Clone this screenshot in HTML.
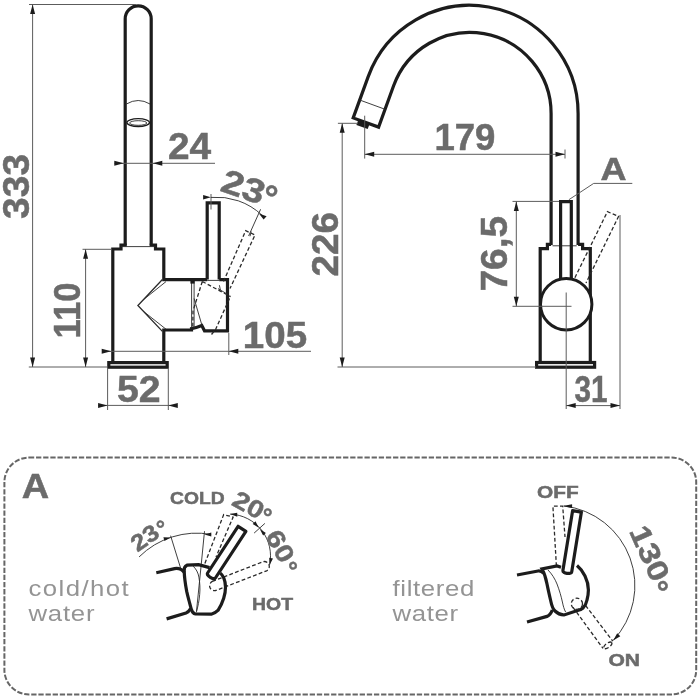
<!DOCTYPE html>
<html><head><meta charset="utf-8"><title>Faucet dimensions</title>
<style>
html,body{margin:0;padding:0;background:#fff;}
svg{display:block;will-change:transform;opacity:0.9999}
.k{fill:none;stroke:#1c1c1c;stroke-width:3.2;stroke-linejoin:miter;stroke-linecap:butt}
.t{fill:none;stroke:#5c5c5c;stroke-width:1}
.tk{fill:none;stroke:#2a2a2a;stroke-width:0.9}
.d{fill:none;stroke:#2a2a2a;stroke-width:1.3;stroke-dasharray:3.8 2.3}
.ar{fill:#1c1c1c;stroke:none}
text{font-family:"Liberation Sans",sans-serif;}
.n{font-weight:bold;fill:#6b6b6b;stroke:#6b6b6b;stroke-width:0.5}
.l{fill:#949494}
</style></head><body>
<svg width="700" height="700" viewBox="0 0 700 700">
<rect width="700" height="700" fill="#fff"/>
<!-- ============ LEFT VIEW ============ -->
<g id="left">
<!-- spout tube -->
<path class="k" d="M125.2,245.5 V18.8 A13,13 0 0 1 151.2,18.8 V245.5"/>
<!-- step + body -->
<path class="k" d="M126.7,245 H121 V249 H112.8 V362"/>
<path class="k" d="M149.7,245 H155.5 V249 H163.8 V279.6 H207.2"/>
<path class="k" d="M219.2,279.6 H227.5 V330.8 H204.5 L201.8,325.6 Q196,328 191.5,328.6 V330 H163.8 V362"/>
<path class="tk" d="M121,246.6 H155.5 M207.2,280.4 H219.2"/>
<rect class="k" x="108.8" y="362.6" width="58.4" height="4.6"/>
<!-- cone -->
<path class="tk" style="stroke-width:1.3" d="M162.4,279.5 L137.9,305.5 L162.4,331.4"/><path class="tk" d="M166,281.6 L143,300 M166,329.2 L143,311"/>
<!-- arm separator -->
<path class="tk" d="M191.6,281 V328 M194.1,281 V328"/>
<rect x="190.4" y="280" width="4.2" height="3.6" fill="#1c1c1c"/>
<!-- tilted housing details -->
<path class="tk" d="M194.1,298.5 L202.3,326.5 M218,288.6 L227.4,294.2 M219.4,285.2 L220.4,290"/>
<path class="d" d="M202.3,281.5 L230.6,296.6 M202.3,281.5 L193,311 L192.8,327 M229.5,298.5 L215.6,329.4 L211.5,334.5"/>
<!-- handle -->
<path class="k" d="M207.2,279.6 V202.9 H219.2 V279.6"/>
<!-- dashed tilted handle -->
<path class="d" d="M223.5,281.5 L245.7,230.7 L255,235 L230,288.5"/>
<path class="tk" d="M260.6,209.3 L248.6,236 M251.2,231.5 L250,236.3"/>
<!-- aerator -->
<ellipse class="k" cx="138.2" cy="122.6" rx="11.3" ry="3.9" style="stroke-width:1.3"/>
<ellipse class="tk" cx="138.2" cy="123" rx="8.6" ry="2.3"/>
<path class="tk" d="M126.4,104 Q138.2,97 150,104"/>
<!-- dimension 333 -->
<path class="t" d="M29,4.5 H136 M32.6,4.5 V367 M28.8,367 H107.5"/>
<path class="ar" d="M32.6,4.5 l-2.5,9.5 h5z M32.6,367 l-2.5,-9.5 h5z"/>
<text class="n" font-size="36" transform="translate(28.7,218.9) rotate(-90)" textLength="65" lengthAdjust="spacingAndGlyphs">333</text>
<!-- dimension 110 -->
<path class="t" d="M82.5,249.3 H111.5 M85.6,249.3 V367"/>
<path class="ar" d="M85.6,249.3 l-2.5,9.5 h5z M85.6,367 l-2.5,-9.5 h5z"/>
<text class="n" font-size="36" transform="translate(79.7,338.4) rotate(-90)" textLength="55.9" lengthAdjust="spacingAndGlyphs">110</text>
<!-- dimension 24 -->
<path class="t" d="M114.5,163.3 H215"/>
<path class="ar" d="M123.8,163.3 l-9.5,-2.5 v5z M152.8,163.3 l9.5,-2.5 v5z"/>
<text class="n" font-size="36.2" x="168" y="159" textLength="43.2" lengthAdjust="spacingAndGlyphs">24</text>
<!-- dimension 105 -->
<path class="t" d="M102.5,351.3 H311 M228.8,333 V355"/>
<path class="ar" d="M111.2,351.3 l-9.5,-2.5 v5z M228.8,351.3 l9.5,-2.5 v5z"/>
<text class="n" font-size="36.2" x="242.8" y="347.8" textLength="64.3" lengthAdjust="spacingAndGlyphs">105</text>
<!-- dimension 52 -->
<path class="t" d="M107.6,368.5 V410 M168.3,368.5 V410 M98.2,405.4 H177.3"/>
<path class="ar" d="M107.6,405.4 l-9.5,-2.5 v5z M168.3,405.4 l9.5,-2.5 v5z"/>
<text class="n" font-size="36.2" x="116.9" y="402.3" textLength="43.7" lengthAdjust="spacingAndGlyphs">52</text>
<!-- angle 23 -->
<path class="t" d="M211,194 V209.5"/>
<path class="tk" d="M210.9,197.4 A66,66 0 0 1 262,215.2"/>
<path class="ar" d="M210.9,197.3 l-7.8,-2.3 v4.6z"/>
<path class="ar" d="M263.6,219.6 L258.9,213.4 L266.6,216.2z"/>
<text class="n" font-size="33.5" transform="translate(219,190.6) rotate(18.7)" textLength="44" lengthAdjust="spacingAndGlyphs">23</text>
<text class="n" font-size="35.5" transform="translate(258.7,206.8) rotate(18.7)">°</text>
</g>
<!-- ============ RIGHT VIEW ============ -->
<g id="right">
<!-- spout -->
<path class="k" d="M578.1,245 V113.6 A108.2,108.2 0 0 0 368.2,76.6 L353.2,117.9 L378.6,127.1 L393.6,85.8 A81.2,81.2 0 0 1 551.1,113.6 V245"/>
<path class="tk" d="M359.7,100.0 L385.1,109.3"/>
<path d="M358.4,119.8 L369.6,123.9 L367.7,129.1 L356.4,125.0z" fill="#1c1c1c"/>
<!-- step + body -->
<path class="k" d="M551.1,244.4 H547.4 V248.7 H540.2 V362"/>
<path class="k" d="M578.1,244.4 H582.6 V248.7 H590.3 V362"/>
<path class="tk" d="M552.5,245.8 H576.7"/>
<rect class="k" x="536.6" y="362.5" width="58" height="4.7"/>
<!-- handle -->
<path class="k" d="M560.6,279 V201.7 H571.3 V279"/>
<!-- hub -->
<circle cx="566.2" cy="304.2" r="25.7" fill="#fff" stroke="#1c1c1c" stroke-width="3"/>
<!-- dashed lever -->
<path class="d" d="M574.9,277.7 L607.4,211.7 L618.6,216.3 L586,283"/>
<!-- centre lines -->
<path class="t" d="M566.2,292.5 V409 M512.5,306.3 H571.5"/>
<!-- dim 226 -->
<path class="t" d="M337.9,123.3 H357.9 M342.2,123.3 V367 M337.5,367 H536"/>
<path class="ar" d="M342.2,123.3 l-2.5,9.5 h5z M342.2,367 l-2.5,-9.5 h5z"/>
<text class="n" font-size="36" transform="translate(337.5,276.5) rotate(-90)" textLength="64.5" lengthAdjust="spacingAndGlyphs">226</text>
<!-- dim 179 -->
<path class="t" d="M364.7,115.7 V158.6 M364.7,154.3 H565 M565,149.5 V158.5"/>
<path class="ar" d="M364.7,154.3 l9.5,-2.5 v5z M565,154.3 l-9.5,-2.5 v5z"/>
<text class="n" font-size="36.2" x="434.4" y="150" textLength="61" lengthAdjust="spacingAndGlyphs">179</text>
<!-- A leader -->
<path class="t" d="M568.9,199.7 L593.7,183.4 H632.3"/>
<text class="n" font-size="32" x="600.5" y="179.6" textLength="26" lengthAdjust="spacingAndGlyphs">A</text>
<!-- dim 76,5 -->
<path class="t" d="M512.5,201.4 H559 M516.3,201.4 V306.3"/>
<path class="ar" d="M516.3,201.4 l-2.5,9.5 h5z M516.3,306.3 l-2.5,-9.5 h5z"/>
<text class="n" font-size="36" transform="translate(506.5,291.5) rotate(-90)" textLength="75.5" lengthAdjust="spacingAndGlyphs">76,5</text>
<!-- dim 31 -->
<path class="t" d="M620,215 V409 M566.2,405.6 H620"/>
<path class="ar" d="M566.2,405.6 l9.5,-2.5 v5z M620,405.6 l-9.5,-2.5 v5z"/>
<text class="n" font-size="36.2" x="574.4" y="401.8" textLength="33" lengthAdjust="spacingAndGlyphs">31</text>
</g>
<!-- ============ BOTTOM PANEL ============ -->
<g id="panel">
<rect x="4.4" y="457.6" width="691.8" height="236.8" rx="24.5" ry="24.5" fill="none" stroke="#666" stroke-width="2" stroke-dasharray="5.3 1.84"/>
<text class="n" font-size="35" x="21.8" y="498" textLength="27.4" lengthAdjust="spacingAndGlyphs">A</text>
<text class="l" font-size="22.6" transform="translate(28.4,595.7) scale(1.14,1)" textLength="88" lengthAdjust="spacing">cold/hot</text>
<text class="l" font-size="22.6" transform="translate(28.4,620.9) scale(1.14,1)" textLength="58" lengthAdjust="spacing">water</text>
<text class="l" font-size="22.6" transform="translate(392.6,595.5) scale(1.14,1)" textLength="71.6" lengthAdjust="spacing">filtered</text>
<text class="l" font-size="22.6" transform="translate(392.6,620.9) scale(1.14,1)" textLength="57.4" lengthAdjust="spacing">water</text>
<text class="n" font-size="17" x="170" y="504.4" textLength="54.6" lengthAdjust="spacingAndGlyphs">COLD</text>
<text class="n" font-size="17.4" x="252" y="610.2" textLength="41" lengthAdjust="spacingAndGlyphs">HOT</text>
<text class="n" font-size="17" x="537" y="497.8" textLength="41.6" lengthAdjust="spacingAndGlyphs">OFF</text>
<text class="n" font-size="17" x="608.4" y="665.8" textLength="31.6" lengthAdjust="spacingAndGlyphs">ON</text>
</g>
<!-- left lever icon -->
<g id="iconL">
<!-- angle arcs -->
<path class="tk" d="M139.1,556.9 A82,82 0 0 1 211.1,534.4"/>
<path class="tk" d="M170.6,535.7 L181.2,570 M204.5,531.2 L200.9,567.9 L196.5,611"/>
<path class="ar" d="M170.4,537.4 L163.4,537.2 L164.5,541.1z M204.4,534.4 L211.3,532.4 V536.4z"/>
<path class="tk" d="M230.2,514.1 A42,42 0 0 1 269.6,564.9"/>
<path class="tk" d="M254.1,533.1 L264.9,523.4"/>
<path class="ar" d="M230,514.1 L237.2,512.7 L237.3,516.7z M258.8,527.8 L255.5,521.3 L252.7,523.9z M259.8,529 L265.9,532.9 L263.1,535.5z M269.6,565.1 L273,558.5 L269.2,557.7z"/>
<text class="n" font-size="23" transform="translate(137.4,552.4) rotate(-35)" textLength="28.8" lengthAdjust="spacingAndGlyphs">23</text>
<text class="n" font-size="23" transform="translate(163.8,537.0) rotate(-35)">°</text>
<text class="n" font-size="24.4" transform="translate(230.4,504.6) rotate(29)" textLength="32" lengthAdjust="spacingAndGlyphs">20</text>
<text class="n" font-size="24.6" transform="translate(256.9,521.4) rotate(29)">°</text>
<text class="n" font-size="25" transform="translate(264.8,535.8) rotate(61.5)" textLength="33" lengthAdjust="spacingAndGlyphs">60</text>
<text class="n" font-size="24.6" transform="translate(278.9,567.8) rotate(61.5)">°</text>
<!-- dashed levers -->
<path class="d" d="M204.9,563.4 L223.7,514.6 L233.1,517.1 L216,557"/>
<path class="d" d="M212.3,581.4 L263.1,561.7 A4.9,4.9 0 0 1 266.6,570.8 L215.8,590.5 A4.9,4.9 0 0 1 212.3,581.4z"/>
<!-- pipe -->
<path class="k" d="M156.3,572.7 L174.6,568.6 Q180.5,567.6 184.4,572.4"/>
<path class="k" d="M166.6,618.9 L186,613.1 Q188.8,612 190.6,608.6"/>
<!-- housing -->
<path class="k" fill="none" d="M209.5,567.6 L198.6,564.7 L187.1,565.1 C184.8,566.3 183.8,568.3 184.2,570.9 C184.3,574 184.5,577 184.9,580 C185.4,584 186,587.7 186.7,591.4 C187.4,594.6 188.2,597.6 189,600.6 C189.8,603.6 190.5,606.5 191.3,609.3 C192.1,612.2 193.5,613.7 195.4,614 L211.3,614.2 C214,613.6 216.2,612.2 218.2,610.2 C220.6,606.3 222.4,602.5 223.7,598.3 C224.9,594.5 225.5,590.7 225.5,586.9 C225.4,583.5 224.8,580.4 223.7,577.7 C222.8,575.8 221.7,574.3 220.3,573.1"/>
<path class="tk" d="M192.5,565.6 C196.3,568.8 198.2,573 198.9,577.1 C199.9,583 200.2,588.5 199.7,594.3 C199.2,600.5 198,606.5 196.3,612.4"/>
<!-- solid lever -->
<path d="M207.6,573.0 L238.1,526.3 L245.9,531.3 L215.4,578.0 C213.8,580.4 206.1,575.4 207.6,573.0z" fill="#fff" stroke="#1c1c1c" stroke-width="3.2" stroke-linejoin="round"/>
</g>
<!-- right lever icon -->
<g id="iconR">
<path class="tk" d="M564,506 A80.1,80.1 0 0 1 613.2,640.4"/>
<path class="ar" d="M562.7,506.1 L572.1,504.3 L572.1,508.1z M613.2,640.6 L620.3,636.2 L617.2,633.2z"/>
<text class="n" font-size="29" transform="translate(628.8,530.9) rotate(66)" textLength="57.8" lengthAdjust="spacingAndGlyphs">130</text>
<text class="n" font-size="31" transform="translate(645.0,586.9) rotate(66)">°</text>
<!-- dashed levers -->
<path class="d" d="M556.4,566 L552.9,506.1 H562.7 L565,537"/>
<path class="d" d="M573,607.3 L603,648.4 M585.6,605.5 L612.8,641.2"/>
<ellipse class="d" cx="607.8" cy="645.4" rx="4.8" ry="2.2" transform="rotate(-36 607.8 645.4)"/>
<!-- pipe -->
<path class="k" d="M517,575 L538,571 Q541,570.6 543.5,573"/>
<path class="k" d="M527,622 L547,616.4 Q550.5,615 552.3,610"/>
<!-- housing -->
<path class="k" d="M561,567.3 L557,566 L542,569 C544.5,573.5 546,578.5 547,584 C548.3,590.5 549.7,596.5 551,602 C551.8,606 553,609 555,611 C557.5,613.5 560.5,614.8 564,615 L576,611 C579.2,610.4 581.5,609.5 583,608 C585,606 586.3,603.5 587,600 C587.9,596.5 588.4,593.5 588.4,590 C588.4,585 587.2,580.5 585,576 C583,572 580.5,568.5 577,565.6"/>
<path class="tk" d="M548,570 C552,574 555,579 557,584 C559.5,590.5 561.2,596.5 562.4,602 C563.2,606 564.2,609.5 565.6,612"/>
<circle class="d" cx="576.9" cy="603.8" r="5.6"/>
<!-- solid lever -->
<path d="M562.9,570.5 L572.6,510.7 L581.4,512.1 L571.7,571.9 C571.3,574.7 562.4,573.3 562.9,570.5z" fill="#fff" stroke="#1c1c1c" stroke-width="3.2" stroke-linejoin="round"/>
</g>
</svg>
</body></html>
